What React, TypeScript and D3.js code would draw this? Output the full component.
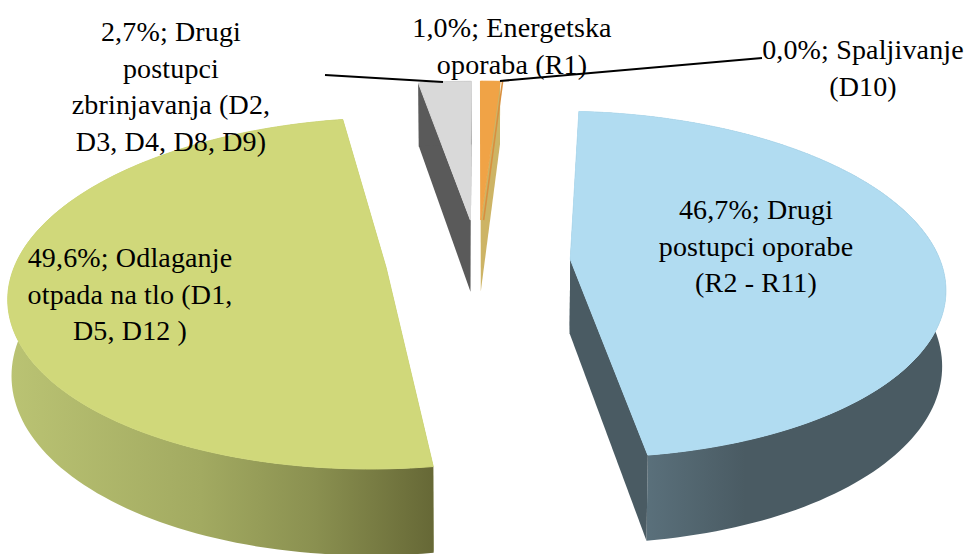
import React from "react";
import * as d3 from "d3";

const categories = ["Energetska oporaba (R1)", "Spaljivanje (D10)", "Drugi postupci oporabe (R2 - R11)", "Odlaganje otpada na tlo (D1, D5, D12 )", "Drugi postupci zbrinjavanja (D2, D3, D4, D8, D9)"];
const values = [1.0, 0.0, 46.7, 49.6, 2.7];
const labelLines = [
  ["1,0%; Energetska", "oporaba (R1)"],
  ["0,0%; Spaljivanje", "(D10)"],
  ["46,7%; Drugi", "postupci oporabe", "(R2 - R11)"],
  ["49,6%; Odlaganje", "otpada na tlo (D1,", "D5, D12 )"],
  ["2,7%; Drugi", "postupci", "zbrinjavanja (D2,", "D3, D4, D8, D9)"],
];
const labelAnchors: [number, number][] = [
  [512, 37], [863, 59], [756, 219], [130, 267], [171, 41],
];
const topColors = ["#f0a346", "#cdb465", "#b1dcf1", "#d0d87a", "#d9d9d9"];
const faceColors = ["#cdb465", "#cdb465", "#4a5b63", "#8a9050", "#5a5a5a"];

const W = 966, H = 554;
const cx = 478, cy = 261, Rx = 370, Ry = 170, persp = 0.145, explode = 0.25;
const depth = 74, bottomScaleX = 0.992, bottomScaleY = 1.06;

type P = [number, number];
const plane = (U: number, V: number, bottom: boolean): P => {
  const s = 1 / (1 - persp * V);
  const xr = U * Rx * s, yr = V * Ry * s;
  return bottom
    ? [cx + xr * bottomScaleX, cy + depth + yr * bottomScaleY]
    : [cx + xr, cy + yr];
};

const arcs = d3.pie<number>().sort(null).value((d) => d).startAngle(0).endAngle(2 * Math.PI)(values);
const line = d3.line<P>();

const sliceGeom = (i: number) => {
  const a = arcs[i];
  const mid = (a.startAngle + a.endAngle) / 2;
  const U0 = explode * Math.sin(mid), V0 = -explode * Math.cos(mid);
  const rim = (t: number, b: boolean) => plane(U0 + Math.sin(t), V0 - Math.cos(t), b);
  const apex = (b: boolean) => plane(U0, V0, b);
  const ts = d3.range(0, 121).map((k) => a.startAngle + ((a.endAngle - a.startAngle) * k) / 120);
  const topPath = line([apex(false), ...ts.map((t) => rim(t, false))])! + "Z";
  const wall = line([...ts.map((t) => rim(t, false)), ...ts.slice().reverse().map((t) => rim(t, true))])! + "Z";
  const face = (t: number) => line([apex(false), rim(t, false), rim(t, true), apex(true)])! + "Z";
  return { a, topPath, wall, startFace: face(a.startAngle), endFace: face(a.endAngle), apex, rim };
};

const drawOrder = [2, 4, 0, 1, 3];
const wallFill: Record<number, string> = { 2: "url(#wallBlue)", 3: "url(#wallGreen)", 4: "#5a5a5a", 0: "#cdb465", 1: "#cdb465" };

export default function App() {
  return (
    <svg width={W} height={H} viewBox={`0 0 ${W} ${H}`} style={{ position: "absolute", left: 0, top: 0, background: "#fff" }}>
      <defs>
        <linearGradient id="wallBlue" gradientUnits="userSpaceOnUse" x1="646" x2="745" y1="0" y2="0">
          <stop offset="0" stopColor="#5a707b" />
          <stop offset="1" stopColor="#4a5b63" />
        </linearGradient>
        <linearGradient id="wallGreen" gradientUnits="userSpaceOnUse" x1="10" x2="434" y1="0" y2="0">
          <stop offset="0" stopColor="#bac373" />
          <stop offset="0.45" stopColor="#a2aa61" />
          <stop offset="0.72" stopColor="#8a9050" />
          <stop offset="1" stopColor="#666836" />
        </linearGradient>
      </defs>
      {drawOrder.map((i) => {
        const g = sliceGeom(i);
        const isZero = values[i] === 0;
        return (
          <g key={categories[i]}>
            {!isZero && <path d={g.startFace} fill={faceColors[i]} />}
            {!isZero && <path d={g.wall} fill={wallFill[i]} />}
            {!isZero && <path d={g.endFace} fill={faceColors[i]} />}
            {!isZero && <path d={g.topPath} fill={topColors[i]} stroke={topColors[i]} strokeWidth={1} />}
            {isZero && (
              <path
                d={line([g.apex(false), g.rim(g.a.startAngle, false)])!}
                stroke="#d98f3e"
                strokeWidth={1.6}
                fill="none"
              />
            )}
          </g>
        );
      })}
      <path d="M325,75L443,82" stroke="#000" strokeWidth={2} fill="none" />
      <path d="M500,81L762,58" stroke="#000" strokeWidth={2} fill="none" />
      {labelLines.map((lines, i) => (
        <text
          key={categories[i]}
          x={labelAnchors[i][0]}
          y={labelAnchors[i][1]}
          textAnchor="middle"
          fontFamily="'Liberation Serif', serif"
          fontSize={28}
          letterSpacing={0.15}
          fill="#000"
        >
          {lines.map((l, k) => (
            <tspan key={k} x={labelAnchors[i][0]} dy={k === 0 ? 0 : 36.5}>
              {l}
            </tspan>
          ))}
        </text>
      ))}
    </svg>
  );
}
